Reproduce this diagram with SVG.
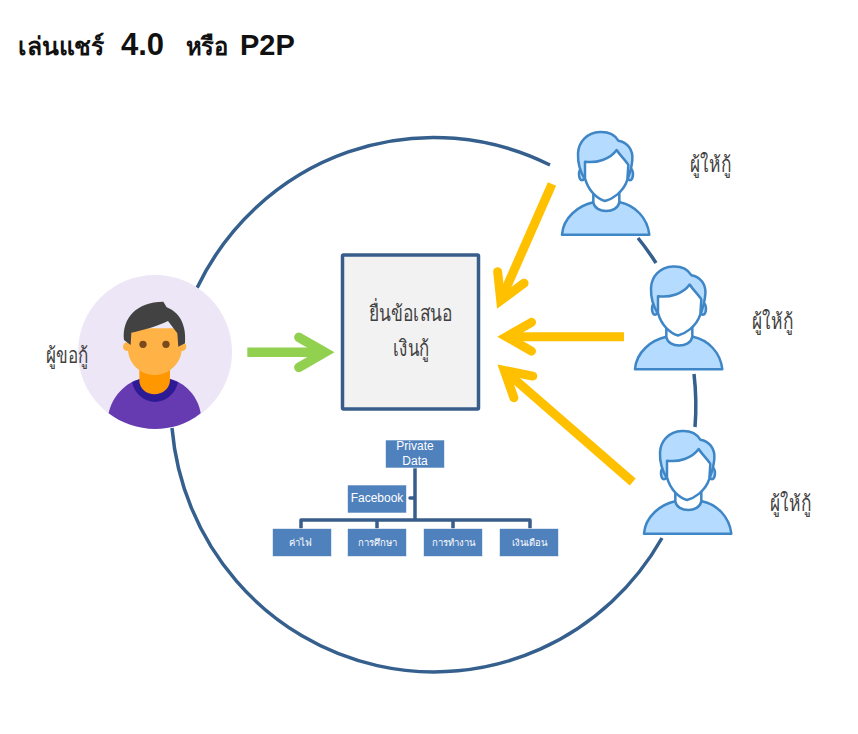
<svg xmlns="http://www.w3.org/2000/svg" xmlns:xlink="http://www.w3.org/1999/xlink" width="858" height="734" viewBox="0 0 858 734">
<style>
text{font-family:"Liberation Sans","Noto Sans","DejaVu Sans",sans-serif;fill:#3f3f3f}
.label{font-size:22px}
.org{fill:#4f81bd;stroke:#fff;stroke-width:.6}
.orgt{font-size:9.5px;fill:#fff;text-anchor:middle}
.orgl{font-size:12px;fill:#fff;text-anchor:middle}
.ring{fill:none;stroke:#355f8d;stroke-width:3.500}
.yel{fill:none;stroke:#ffc000;stroke-width:9;marker-end:url(#oy)}
.grn{fill:none;stroke:#92d050;stroke-width:9.500;marker-end:url(#og)}
.tree{fill:none;stroke:#385d8a;stroke-width:3.500;stroke-linejoin:round;stroke-linecap:round}
.ic{stroke:#3f86c6;stroke-width:7.500;stroke-linejoin:round}
.ti{font-size:29px;fill:#111;font-weight:bold}
.th{font-size:25px}
</style>
<defs>
<marker id="oy" viewBox="-6 -5 7 10" refX="0" refY="0" markerWidth="7" markerHeight="10" orient="auto" overflow="visible"><polyline points="-2.800,-1.600 0,0 -2.800,1.600" fill="none" stroke="#ffc000" stroke-width="1" stroke-linecap="round" stroke-miterlimit="10"/></marker>
<marker id="og" viewBox="-6 -5 7 10" refX="0" refY="0" markerWidth="7" markerHeight="10" orient="auto" overflow="visible"><polyline points="-2.750,-1.580 0,0 -2.750,1.580" fill="none" stroke="#92d050" stroke-width="1" stroke-linecap="round" stroke-miterlimit="10"/></marker>
<g id="lender">
<ellipse class="ic" fill="#b5dcff" cx="126" cy="163" rx="9" ry="18"/>
<ellipse class="ic" fill="#b5dcff" cx="270" cy="163" rx="9" ry="18"/>
<path class="ic" fill="#b5dcff" d="M66 344C70 292 115 257 160 247L240 247C285 257 322 292 328 344Z"/>
<path class="ic" fill="#fff" d="M160 210V247C165 282 232 282 238 247V210Z"/>
<path class="ic" fill="#b5dcff" d="M135 178C120 155 113 130 114 100C116 65 140 38 180 36C205 35 225 45 235 62C262 66 280 90 277 120C275 145 268 165 262 180Z"/>
<path class="ic" fill="#fff" d="M135 125C170 130 210 118 230 90C242 108 260 125 265 135L262 180C250 218 215 238 195 243C170 235 145 212 135 175Z"/>
</g>
</defs>
<g id="title"><text x="18" y="55" class="ti th" textLength="86" lengthAdjust="spacingAndGlyphs">เล่นแชร์</text><text x="121" y="55" class="ti" style="font-size:31px">4.0</text><text x="186" y="55" class="ti th" textLength="42" lengthAdjust="spacingAndGlyphs">หรือ</text><text x="240" y="55" class="ti">P2P</text></g>
<g id="connectors">
<path class="ring" d="M197 288A263 267 0 0 1 550 165"/>
<path class="ring" d="M638 238A263 267 0 0 1 656 263"/>
<path class="ring" d="M694 374A263 267 0 0 1 695 427"/>
<path class="ring" d="M662 538A263 267 0 0 1 172 428"/>
<path class="yel" d="M552 184L500.700 300.500"/>
<path class="yel" d="M624 336.700H506.300"/>
<path class="yel" d="M632.700 482L504.300 370.400"/>
<path class="grn" d="M247.300 352.300H325"/>
<path class="tree" d="M415 468V520M301 528V520H530V528M377 520V528M453 520V528M415 498H410"/>
</g>
<g id="borrower">
<circle cx="155" cy="352" r="77" fill="#ece6f6"/>
<g transform="translate(30 265) scale(.3333)">
<path fill="#663ab0" d="M236 445C245 395 290 350 330 342H420C465 352 505 395 512 445C470 480 420 492 375 492C325 492 275 475 236 445Z"/>
<path fill="#2d1b96" d="M306 352L330 342H420L444 352C435 390 405 411 375 411C345 411 315 390 306 352Z"/>
<path fill="#ff9800" d="M328 300H420V345C420 372 395 388 374 388C350 388 328 372 328 345Z"/>
<circle cx="292" cy="245" r="13" fill="#ffb347"/><circle cx="456" cy="245" r="13" fill="#ffb347"/>
<path fill="#ffb347" d="M293 190H456V245C456 300 410 330 375 330C335 330 293 300 293 245Z"/>
<path fill="#424242" d="M282 225C275 160 320 110 400 110L410 127C445 140 470 175 465 235L445 245L442 205L414 168C380 185 340 195 304 203L302 240Z"/>
<circle cx="339" cy="238" r="11" fill="#7a4a1e"/><circle cx="408" cy="238" r="11" fill="#7a4a1e"/>
</g>
<text x="46" y="363" class="label" textLength="42" lengthAdjust="spacingAndGlyphs">ผู้ขอกู้</text>
</g>
<g id="proposal"><rect x="342.500" y="255" width="136" height="154" rx="1" fill="#f2f2f2" stroke="#385d8a" stroke-width="3.500"/><text x="369" y="321" class="label" textLength="83" lengthAdjust="spacingAndGlyphs">ยื่นข้อเสนอ</text><text x="393" y="356" class="label" textLength="36" lengthAdjust="spacingAndGlyphs">เงินกู้</text></g>
<g id="lender1"><use xlink:href="#lender" transform="translate(540 120) scale(.3333)"/><text x="690" y="172" class="label" textLength="41" lengthAdjust="spacingAndGlyphs">ผู้ให้กู้</text></g>
<g id="lender2"><use xlink:href="#lender" transform="translate(613 254.500) scale(.3333)"/><text x="752" y="329" class="label" textLength="41" lengthAdjust="spacingAndGlyphs">ผู้ให้กู้</text></g>
<g id="lender3"><use xlink:href="#lender" transform="translate(622 419) scale(.3333)"/><text x="770" y="511" class="label" textLength="41" lengthAdjust="spacingAndGlyphs">ผู้ให้กู้</text></g>
<g id="private-data"><rect class="org" x="385.500" y="440" width="59" height="28"/><text class="orgl" x="415" y="450">Private</text><text class="orgl" x="415" y="465">Data</text></g>
<g id="facebook"><rect class="org" x="347.500" y="485" width="59" height="28"/><text class="orgl" x="377" y="502">Facebook</text></g>
<g id="n-electric"><rect class="org" x="272.500" y="528.500" width="59" height="28"/><text class="orgt" x="300" y="546">ค่าไฟ</text></g>
<g id="n-edu"><rect class="org" x="347.500" y="528.500" width="59" height="28"/><text class="orgt" x="377" y="546">การศึกษา</text></g>
<g id="n-work"><rect class="org" x="423.500" y="528.500" width="59" height="28"/><text class="orgt" x="453" y="546">การทำงาน</text></g>
<g id="n-salary"><rect class="org" x="499.500" y="528.500" width="59" height="28"/><text class="orgt" x="529" y="546">เงินเดือน</text></g>
</svg>
